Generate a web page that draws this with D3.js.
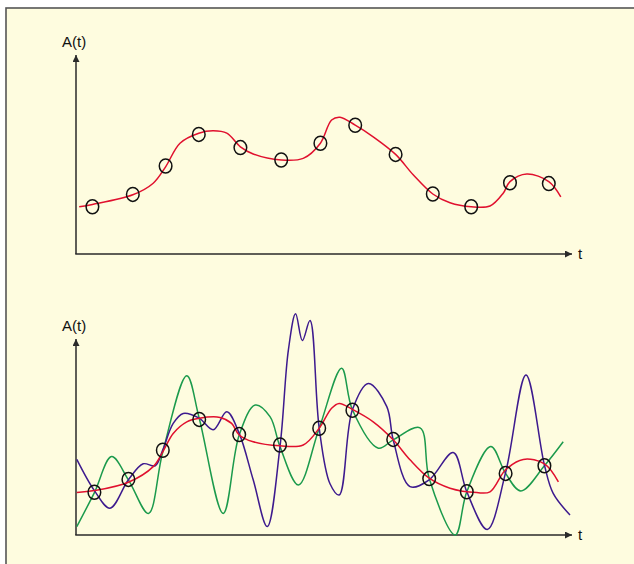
<!DOCTYPE html>
<html>
<head>
<meta charset="utf-8">
<script src="https://cdn.jsdelivr.net/npm/d3@7"></script>
<style>
  body { margin: 0; background: #fff; }
  svg { display: block; font-family: Arial, "Liberation Sans", sans-serif; }
</style>
</head>
<body>
<div id="chart"></div>
<script>
// samples taken of the signal (t, A) - upper panel
const samplesTop = [
  [4.1, 11.8], [14.2, 14.9], [22.4, 22.0], [30.7, 29.9], [41.1, 26.6], [51.3, 23.5], [61.1, 27.7],
  [69.8, 32.2], [79.9, 24.9], [89.2, 15.0], [98.8, 11.8], [108.5, 17.8], [118.2, 17.6]
];
// reconstructed signal, upper panel
const redTop = [
  [0.8, 11.8], [4.1, 12.4], [14.2, 14.8], [19.3, 17.7], [22.4, 21.8], [26.0, 27.7], [30.7, 30.2],
  [34.3, 30.8], [37.7, 30.2], [41.1, 26.8], [44.3, 25.0], [51.3, 23.5], [56.8, 23.9], [61.1, 27.7],
  [63.9, 33.5], [66.0, 34.2], [69.8, 32.2], [74.3, 29.3], [79.9, 24.9], [84.3, 19.8], [89.2, 15.0],
  [93.5, 12.8], [98.8, 11.8], [103.5, 12.0], [106.8, 15.2], [108.5, 18.1], [112.7, 20.0],
  [118.2, 18.1], [121.2, 14.3]
];

// lower panel: same samples, three signals through them
const samplesBottom = [
  [4.6, 10.7], [13.1, 13.9], [21.7, 21.2], [30.8, 28.9], [40.8, 25.1], [51.0, 22.5], [60.8, 26.7],
  [69.1, 31.2], [79.3, 23.9], [88.3, 14.1], [97.7, 10.8], [107.4, 15.4], [117.1, 17.3]
];
const redBottom = [
  [0.2, 10.6], [4.6, 11.1], [13.1, 13.2], [19.3, 17.1], [21.7, 20.8], [24.3, 25.4], [27.7, 28.3],
  [30.8, 29.2], [36.0, 29.4], [38.9, 27.9], [40.8, 25.0], [44.3, 23.3], [51.0, 22.3], [56.8, 22.5],
  [60.8, 26.7], [63.9, 31.7], [65.8, 32.9], [69.1, 31.4], [74.3, 28.3], [79.3, 23.8], [83.5, 18.8],
  [88.3, 14.2], [93.5, 11.7], [100.2, 10.6], [103.5, 10.8], [107.4, 16.3], [111.8, 18.9],
  [117.1, 17.8], [120.6, 13.3]
];
const purpleBottom = [
  [0.2, 18.9], [4.6, 11.1], [8.5, 6.7], [13.1, 13.8], [16.8, 17.8], [19.8, 17.3], [21.7, 21.3],
  [24.3, 27.9], [26.8, 30.4], [30.8, 29.2], [34.3, 26.3], [37.7, 30.8], [40.8, 25.4], [44.3, 13.8],
  [47.8, 2.1], [51.0, 22.1], [53.1, 46.3], [54.9, 55.3], [56.6, 48.6], [58.5, 53.6], [60.8, 26.7],
  [63.5, 12.8], [65.8, 10.0], [69.1, 31.3], [73.1, 37.9], [77.7, 32.1], [79.3, 23.8], [83.5, 12.1],
  [88.3, 13.8], [94.3, 20.6], [97.7, 10.8], [102.8, 1.4], [107.4, 15.6], [112.5, 40.0],
  [117.1, 17.5], [119.3, 10.4], [123.5, 5.0]
];
const greenBottom = [
  [0.2, 2.1], [4.6, 10.6], [8.9, 19.6], [13.1, 13.8], [18.1, 5.4], [21.7, 20.8], [27.7, 39.8],
  [30.8, 29.2], [36.8, 5.4], [40.8, 25.0], [44.8, 32.5], [48.5, 29.6], [51.0, 22.1], [55.6, 12.5],
  [60.8, 26.7], [66.4, 41.7], [69.1, 31.3], [75.6, 21.7], [79.3, 23.8], [86.0, 26.8], [88.3, 14.1],
  [94.8, 0.0], [97.7, 10.8], [103.7, 22.1], [107.4, 15.4], [111.2, 11.0], [117.1, 17.3], [121.8, 23.3]
];

const axisLabels = ["A(t)", "t"];

const width = 634, height = 564;
const bg = "#fefcdf";
const axisColor = "#2a2a2a";

const svg = d3.select("#chart").append("svg")
  .attr("width", width)
  .attr("height", height);

svg.append("rect")
  .attr("x", 6).attr("y", 8)
  .attr("width", width).attr("height", height)
  .attr("fill", bg)
  .attr("stroke", "#555")
  .attr("stroke-width", 1.6);

svg.append("defs").append("marker")
  .attr("id", "arrow")
  .attr("viewBox", "0 0 10 10")
  .attr("refX", 10).attr("refY", 5)
  .attr("markerWidth", 7).attr("markerHeight", 7)
  .attr("markerUnits", "userSpaceOnUse")
  .attr("orient", "auto")
  .append("path")
  .attr("d", "M0,0 L10,5 L0,10 Z")
  .attr("fill", axisColor);

const x = d3.scaleLinear().domain([0, 124]).range([76, 572]);

function panel(y0, lines, samples, yLabelBase) {
  const y = d3.scaleLinear().domain([0, 50]).range([y0, y0 - 200]);
  const g = svg.append("g");

  // axes
  g.append("line")
    .attr("x1", x(0)).attr("y1", y(0)).attr("x2", x(0)).attr("y2", y(0) - (y0 - yLabelBase) + 8)
    .attr("stroke", axisColor).attr("stroke-width", 1.5)
    .attr("marker-end", "url(#arrow)");
  g.append("line")
    .attr("x1", x(0) - 0.75).attr("y1", y(0)).attr("x2", x(124)).attr("y2", y(0))
    .attr("stroke", axisColor).attr("stroke-width", 1.5)
    .attr("marker-end", "url(#arrow)");

  g.append("text")
    .attr("x", x(0) - 14).attr("y", yLabelBase)
    .attr("font-size", 15).attr("fill", "#111")
    .text(axisLabels[0]);
  g.append("text")
    .attr("x", x(124) + 6).attr("y", y(0) + 5)
    .attr("font-size", 15).attr("fill", "#111")
    .text(axisLabels[1]);

  const line = d3.line()
    .x(d => x(d[0]))
    .y(d => y(d[1]))
    .curve(d3.curveCatmullRom.alpha(0.5));

  lines.forEach(l => {
    g.append("path")
      .datum(l.data)
      .attr("d", line)
      .attr("fill", "none")
      .attr("stroke", l.color)
      .attr("stroke-width", 1.5);
  });

  g.selectAll("ellipse")
    .data(samples)
    .enter()
    .append("ellipse")
    .attr("cx", d => x(d[0]))
    .attr("cy", d => y(d[1]))
    .attr("rx", 6.3)
    .attr("ry", 7)
    .attr("fill", "none")
    .attr("stroke", "#111")
    .attr("stroke-width", 1.5);
}

panel(254, [{ data: redTop, color: "#e0102e" }], samplesTop, 47);
panel(535, [
  { data: greenBottom, color: "#1b9a4c" },
  { data: purpleBottom, color: "#3d1a8e" },
  { data: redBottom, color: "#e0102e" }
], samplesBottom, 331);
</script>
</body>
</html>
